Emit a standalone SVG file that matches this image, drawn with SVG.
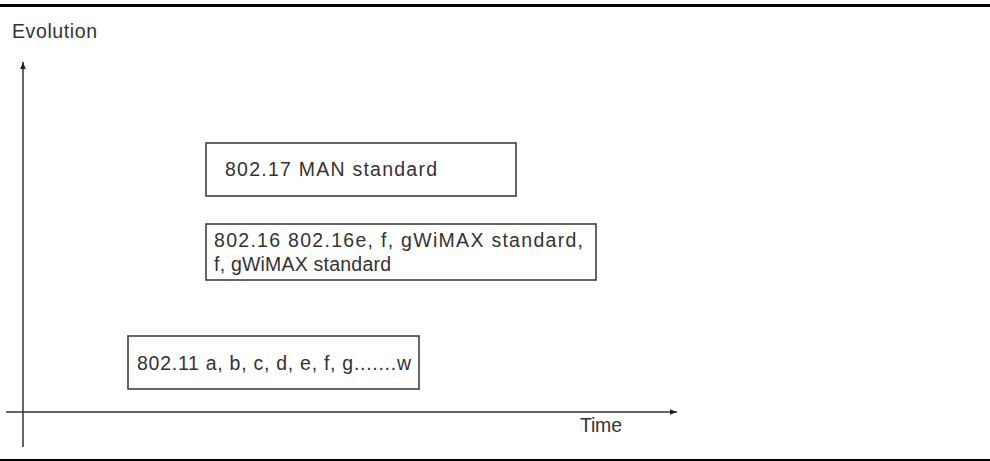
<svg xmlns="http://www.w3.org/2000/svg" width="990" height="461" viewBox="0 0 990 461">
<defs>
<marker id="arr" viewBox="0 0 10 10" refX="10" refY="5" markerWidth="7" markerHeight="7" markerUnits="userSpaceOnUse" orient="auto">
<path d="M0,1 L10,5 L0,9 Z" fill="#222"/>
</marker>
</defs>
<style>
text{font-family:"Liberation Sans",Arial,sans-serif;font-size:19.5px;fill:#333}
.box{fill:#fff;stroke:#333;stroke-width:1.5}
.ax{stroke:#333;stroke-width:1.5;fill:none}
</style>
<rect width="990" height="461" fill="#fff"/>
<line x1="0" y1="5.5" x2="990" y2="5.5" stroke="#000" stroke-width="3"/>
<line x1="0" y1="460" x2="990" y2="460" stroke="#000" stroke-width="2"/>
<text x="12" y="38" textLength="85">Evolution</text>
<g id="connectors">
<line class="ax" x1="23" y1="447" x2="23" y2="62" marker-end="url(#arr)"/>
<line class="ax" x1="6" y1="412" x2="677" y2="412" marker-end="url(#arr)"/>
</g>
<text x="580" y="432" textLength="42">Time</text>
<g id="n1">
<rect class="box" x="206" y="143" width="310" height="53"/>
<text x="225" y="176" textLength="212">802.17 MAN standard</text>
</g>
<g id="n2">
<rect class="box" x="206" y="224" width="390" height="56" stroke-width="2"/>
<text x="214" y="247" textLength="369">802.16 802.16e, f, gWiMAX standard,</text>
<text x="214" y="271" textLength="177">f, gWiMAX standard</text>
</g>
<g id="n3">
<rect class="box" x="128" y="336" width="291" height="53"/>
<text x="137" y="370" textLength="274">802.11 a, b, c, d, e, f, g.......w</text>
</g>
</svg>
